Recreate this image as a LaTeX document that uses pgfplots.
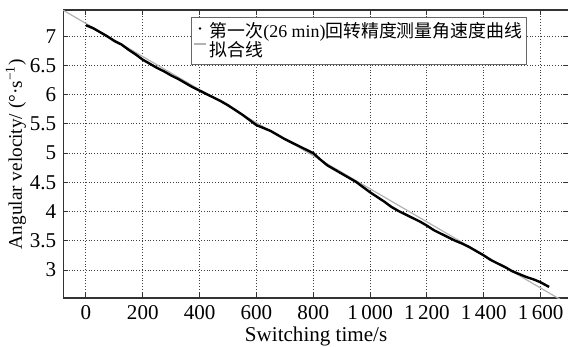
\documentclass[border=0pt]{standalone}
\usepackage{fontspec}
\setmainfont{Liberation Serif}
\newfontfamily\cjk{Noto Sans CJK SC}
\usepackage{pgfplots}
\usepackage{pgfplotstable}
\pgfplotsset{compat=1.18}

\pgfplotstableread{
x y
0 7.19
25 7.14
50 7.07
75 7.00
100 6.92
125 6.86
150 6.77
175 6.69
200 6.60
225 6.53
250 6.46
275 6.40
300 6.33
325 6.27
350 6.20
375 6.13
400 6.07
425 6.01
450 5.95
475 5.89
500 5.82
525 5.74
550 5.66
575 5.57
600 5.48
625 5.43
650 5.38
675 5.31
700 5.24
725 5.18
750 5.12
775 5.06
800 5.00
825 4.89
850 4.79
875 4.72
900 4.65
925 4.58
950 4.51
975 4.42
1000 4.33
1025 4.25
1050 4.17
1075 4.08
1100 4.01
1125 3.95
1150 3.89
1175 3.83
1200 3.76
1225 3.68
1250 3.62
1275 3.56
1300 3.50
1325 3.45
1350 3.39
1375 3.32
1400 3.25
1425 3.17
1450 3.11
1475 3.05
1500 2.98
1525 2.93
1550 2.88
1575 2.84
1600 2.79
1615 2.75
1630 2.71
}\curvedata

\begin{document}
\begin{tikzpicture}
\begin{axis}[name=ax, scale only axis, width=252pt, height=143.5pt,
  xmin=-80, xmax=1700, ymin=2.52, ymax=7.45,
  xtick={0,200,...,1600}, ytick={3,3.5,4,4.5,5,5.5,6,6.5,7},
  /pgf/number format/1000 sep={\,},
  /pgf/number format/assume math mode=true,
  grid=major,
  major grid style={densely dotted, black!75, line width=0.5pt},
  tick align=inside, major tick length=2.5pt,
  tick style={black!80, line width=0.5pt},
  axis line style={black!80, line width=0.6pt},
  every tick label/.append style={font=\fontsize{10.5}{12}\selectfont},
  xlabel style={font=\fontsize{10.5}{12}\selectfont, yshift=3pt},
  ylabel style={font=\fontsize{9.6}{11}\selectfont, yshift=-5pt},
  xlabel={Switching time/s},
  ylabel={Angular velocity/ (°·s\textsuperscript{−1})},
  legend style={at={(0.252,0.976)}, anchor=north west,
    draw=black!60, line width=0.5pt, inner sep=1pt, row sep=-2.5pt,
    font=\fontsize{8.9}{10}\selectfont,
    nodes={inner sep=1.5pt}},
  legend cell align=left,
]
\addplot[gray!60, line width=0.6pt, forget plot] coordinates {(-80,7.4464) (1700,2.409)};
\addplot[black, line width=1.2pt, forget plot] table[x=x,y=y] {\curvedata};
\addlegendimage{legend image code/.code={\path[draw=none,fill=none] (0,0) -- (6pt,0); \fill[black,draw=none] (3pt,1.5pt) circle (0.7pt);}}
\addlegendentry{{\cjk 第一次}(26 min){\cjk 回转精度测量角速度曲线}}
\addlegendimage{legend image code/.code={\draw[gray!60, line width=0.8pt] (0,0) -- (6pt,0);}}
\addlegendentry{{\cjk 拟合线}}
\end{axis}
\pgfresetboundingbox
\path[use as bounding box] ([xshift=-31.5pt,yshift=-24pt]ax.south west) rectangle ([xshift=-0.5pt,yshift=5pt]ax.north east);
\end{tikzpicture}
\end{document}
